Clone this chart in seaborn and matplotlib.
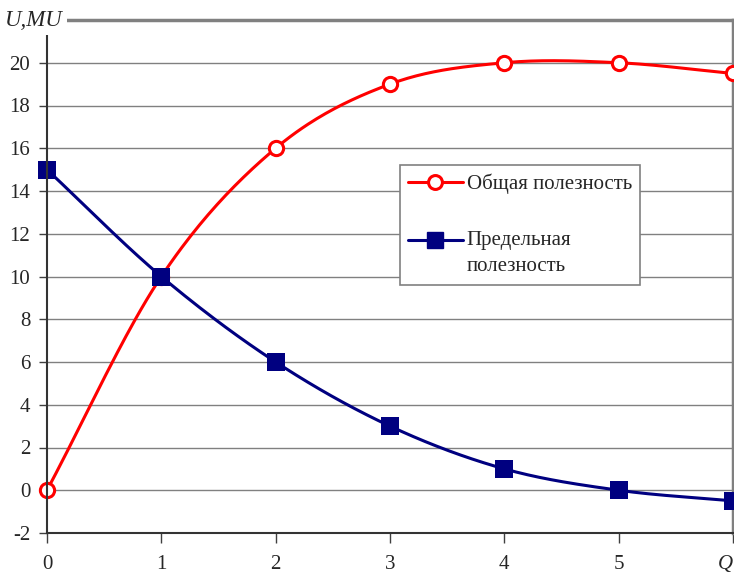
import numpy as np
import matplotlib
matplotlib.use("Agg")
import matplotlib.pyplot as plt
from matplotlib.legend_handler import HandlerLine2D
import seaborn as sns
import pandas as pd

# Quantity consumed and the two utility schedules
quantity = [0, 1, 2, 3, 4, 5, 6]
x_tick_labels = ["0", "1", "2", "3", "4", "5", "Q"]
total_utility = [0, 10, 16, 19, 20, 20, 19.5]
marginal_utility = [15, 10, 6, 3, 1, 0, -0.5]
y_ticks = [-2, 0, 2, 4, 6, 8, 10, 12, 14, 16, 18, 20]

label_total = "Общая полезность"
label_marginal = "Предельная\nполезность"

sns.set_theme(style="white")
plt.rcParams["font.family"] = ["Liberation Serif", "DejaVu Serif"]


def smooth(xs, ys, n=40):
    """Cubic Hermite (Catmull-Rom) curve through the given points."""
    xs = np.asarray(xs, float)
    ys = np.asarray(ys, float)
    m = len(xs)
    tx = np.empty(m)
    ty = np.empty(m)
    for i in range(m):
        a = max(i - 1, 0)
        b = min(i + 1, m - 1)
        tx[i] = (xs[b] - xs[a]) / (b - a) if b != a else 0
        ty[i] = (ys[b] - ys[a]) / (b - a) if b != a else 0
    out_x, out_y = [], []
    t = np.linspace(0, 1, n)
    h00 = 2 * t**3 - 3 * t**2 + 1
    h10 = t**3 - 2 * t**2 + t
    h01 = -2 * t**3 + 3 * t**2
    h11 = t**3 - t**2
    for i in range(m - 1):
        out_x.append(h00 * xs[i] + h10 * tx[i] + h01 * xs[i + 1] + h11 * tx[i + 1])
        out_y.append(h00 * ys[i] + h10 * ty[i] + h01 * ys[i + 1] + h11 * ty[i + 1])
    return np.concatenate(out_x), np.concatenate(out_y)


class TopAlignedHandler(HandlerLine2D):
    """Line handler lifted to sit beside the first line of a two-line label."""

    def __init__(self, shift=0.0, **kw):
        super().__init__(**kw)
        self.shift = shift

    def create_artists(self, legend, orig_handle, xdescent, ydescent,
                       width, height, fontsize, trans):
        return super().create_artists(legend, orig_handle, xdescent,
                                      ydescent - 2 * self.shift, width, height,
                                      fontsize, trans)


df = pd.DataFrame({"Q": quantity, "TU": total_utility, "MU": marginal_utility})

fig = plt.figure(figsize=(7.34, 5.74), dpi=100)
ax = fig.add_axes([47 / 734, 41 / 574, 686 / 734, 513 / 574])

red = "#FF0000"
navy = "#000080"
fs = 15

# grid lines
for yv in y_ticks:
    ax.axhline(yv, color="#808080", lw=1.0, zorder=0)

sx, sy = smooth(quantity, total_utility)
ax.plot(sx, sy, color=red, lw=2.2, zorder=3, clip_on=False)
sx2, sy2 = smooth(quantity, marginal_utility)
ax.plot(sx2, sy2, color=navy, lw=2.2, zorder=3, clip_on=False)

sns.scatterplot(data=df, x="Q", y="TU", ax=ax, marker="o", s=105,
                facecolor="white", edgecolor=red, linewidth=2.2,
                zorder=4, clip_on=False, legend=False)
sns.scatterplot(data=df, x="Q", y="MU", ax=ax, marker="s", s=150,
                color=navy, edgecolor=navy, linewidth=0,
                zorder=4, clip_on=False, legend=False)

ax.set_xlim(0, 6)
ax.set_ylim(-2, 22)
ax.set_xticks(quantity)
ax.set_xticklabels(x_tick_labels)
ax.set_yticks(y_ticks)
ax.set_yticklabels([str(v) for v in y_ticks])
ax.set_xlabel("")
ax.set_ylabel("")

ax.tick_params(axis="y", which="major", direction="out", length=6, width=1,
               color="#404040", pad=6, labelsize=fs, left=True)
ax.tick_params(axis="x", which="major", direction="out", length=7, width=1,
               color="#404040", pad=9, labelsize=fs, bottom=True)

for lab in ax.get_xticklabels():
    if lab.get_text() == "Q":
        lab.set_fontstyle("italic")
        lab.set_horizontalalignment("right")

for side in ("top", "right"):
    ax.spines[side].set_visible(True)
    ax.spines[side].set_color("#808080")
    ax.spines[side].set_linewidth(2.5)
for side in ("left", "bottom"):
    ax.spines[side].set_visible(True)
    ax.spines[side].set_color("#333333")
    ax.spines[side].set_linewidth(1.5)
    ax.spines[side].set_zorder(5)

fig.text(5 / 734, 1 - 20 / 574, "U,MU", fontsize=16.5, fontstyle="italic",
         ha="left", va="center", zorder=10,
         bbox=dict(facecolor="white", edgecolor="none", pad=3))

h_total = plt.Line2D([], [], color=red, lw=2.2, marker="o", markersize=10,
                     markerfacecolor="white", markeredgecolor=red,
                     markeredgewidth=2.2)
h_marg = plt.Line2D([], [], color=navy, lw=2.2, marker="s", markersize=11,
                    markerfacecolor=navy, markeredgecolor=navy)
leg = fig.legend([h_total, h_marg], [label_total, label_marginal],
                 loc="upper left", bbox_to_anchor=(400 / 734, 1 - 165 / 574),
                 fontsize=fs, frameon=True, fancybox=False, framealpha=1,
                 edgecolor="#808080", handlelength=2.6, handletextpad=0.2,
                 labelspacing=1.8, borderpad=0.4, borderaxespad=0,
                 handler_map={h_marg: TopAlignedHandler(shift=9.5)})
leg.get_frame().set_linewidth(1.2)
for t in leg.get_texts():
    t.set_linespacing(1.5)

fig.savefig("out.png", dpi=100, facecolor="white")
